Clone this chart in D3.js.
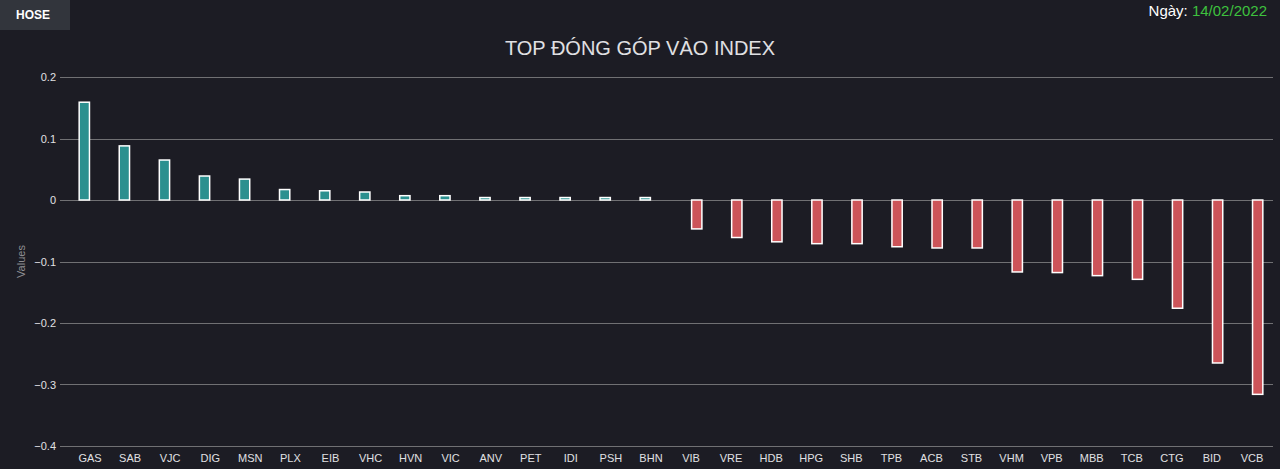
<!DOCTYPE html>
<html>
  <head>
    <meta charset="utf-8">
    <title>Top đóng góp vào index</title>
    <script src="https://cdn.jsdelivr.net/npm/d3@7"></script>
    <style>
      html, body { margin: 0; padding: 0; background: #1c1c24; overflow: hidden; }
      svg { display: block; font-family: "Liberation Sans", Arial, sans-serif; }
      .grid line { stroke: #707073; stroke-width: 1; }
      .axis text { fill: #e0e0e3; font-size: 11px; }
    </style>
  </head>

  <body>
    <svg id="chart" width="1280" height="469"></svg>

    <script>
      // data
      const tickers = ["GAS", "SAB", "VJC", "DIG", "MSN", "PLX", "EIB", "VHC", "HVN", "VIC",
                       "ANV", "PET", "IDI", "PSH", "BHN", "VIB", "VRE", "HDB", "HPG", "SHB",
                       "TPB", "ACB", "STB", "VHM", "VPB", "MBB", "TCB", "CTG", "BID", "VCB"];
      const contributions = [0.159, 0.088, 0.065, 0.039, 0.034, 0.017, 0.015, 0.013, 0.007, 0.007,
                             0.004, 0.004, 0.004, 0.004, 0.004, -0.047, -0.061, -0.068, -0.071, -0.071,
                             -0.076, -0.078, -0.078, -0.117, -0.118, -0.123, -0.129, -0.176, -0.265, -0.316];
      const yTicks = [0.2, 0.1, 0, -0.1, -0.2, -0.3, -0.4];
      const series = ["up", "down"];
      const seriesColor = { up: "#2b908f", down: "#cc5459" };
      const tradeDate = "14/02/2022";

      const width = 1280, height = 469;
      const margin = { top: 77, bottom: 23, left: 70, right: 8 };

      const chart = d3.select("#chart");

      const barData = tickers.map((t, i) => ({
        ticker: t,
        value: contributions[i],
        series: contributions[i] >= 0 ? "up" : "down"
      }));

      const x = d3.scaleBand()
          .domain(tickers)
          .range([margin.left, width - margin.right]);

      const xInner = d3.scaleBand()
          .domain(series)
          .range([x.bandwidth() / 2 - 12, x.bandwidth() / 2 + 12])
          .padding(0.1);

      const y = d3.scaleLinear()
          .domain([-0.4, 0.2])
          .range([height - margin.bottom, margin.top]);

      // grid lines
      chart.append("g")
          .attr("class", "grid")
          .selectAll("line")
          .data(yTicks)
          .join("line")
            .attr("x1", margin.left - 10)
            .attr("x2", width - margin.right + 1)
            .attr("y1", d => Math.round(y(d)) + 0.5)
            .attr("y2", d => Math.round(y(d)) + 0.5);

      // y axis labels
      const yAxis = d3.axisLeft(y)
          .tickValues(yTicks)
          .tickSize(0)
          .tickPadding(0)
          .tickFormat(d => d3.format("")(+d.toFixed(1)));

      chart.append("g")
          .attr("class", "axis")
          .attr("transform", "translate(" + (margin.left - 14) + ",0)")
          .call(yAxis)
          .call(g => g.select(".domain").remove())
          .selectAll("text")
            .attr("dy", "0.35em");

      // x axis labels
      const xAxis = d3.axisBottom(x).tickSize(0).tickPadding(0);
      chart.append("g")
          .attr("class", "axis")
          .attr("transform", "translate(0," + (height - 15) + ")")
          .call(xAxis)
          .call(g => g.select(".domain").remove())
          .selectAll("text")
            .attr("dy", "0.71em");

      // bars
      chart.append("g")
          .selectAll("rect")
          .data(barData)
          .join("rect")
            .attr("x", d => x(d.ticker) + xInner(d.series))
            .attr("width", xInner.bandwidth())
            .attr("y", d => y(Math.max(0, d.value)))
            .attr("height", d => Math.abs(y(d.value) - y(0)))
            .attr("fill", d => seriesColor[d.series])
            .attr("stroke", "#ffffff")
            .attr("stroke-width", 1.5);

      // axis title
      chart.append("text")
          .attr("transform", "translate(25," + y(-0.1) + ") rotate(-90)")
          .attr("text-anchor", "middle")
          .attr("fill", "#8e8e92")
          .style("font-size", "11px")
          .text("Values");

      // title
      chart.append("text")
          .attr("x", width / 2)
          .attr("y", 55)
          .attr("text-anchor", "middle")
          .attr("fill", "#e0e0e3")
          .style("font-size", "20px")
          .text("TOP ĐÓNG GÓP VÀO INDEX");

      // exchange button
      chart.append("rect")
          .attr("x", 0).attr("y", 0)
          .attr("width", 70).attr("height", 30)
          .attr("fill", "#32353c");
      chart.append("text")
          .attr("x", 33).attr("y", 19)
          .attr("text-anchor", "middle")
          .attr("fill", "#ffffff")
          .style("font-size", "12px")
          .style("font-weight", "bold")
          .text("HOSE");

      // date
      const dateText = chart.append("text")
          .attr("x", width - 13)
          .attr("y", 16)
          .attr("text-anchor", "end")
          .style("font-size", "15px");
      dateText.append("tspan").attr("fill", "#ffffff").text("Ngày: ");
      dateText.append("tspan").attr("fill", "#3ec13e").text(tradeDate);
    </script>
  </body>
</html>
